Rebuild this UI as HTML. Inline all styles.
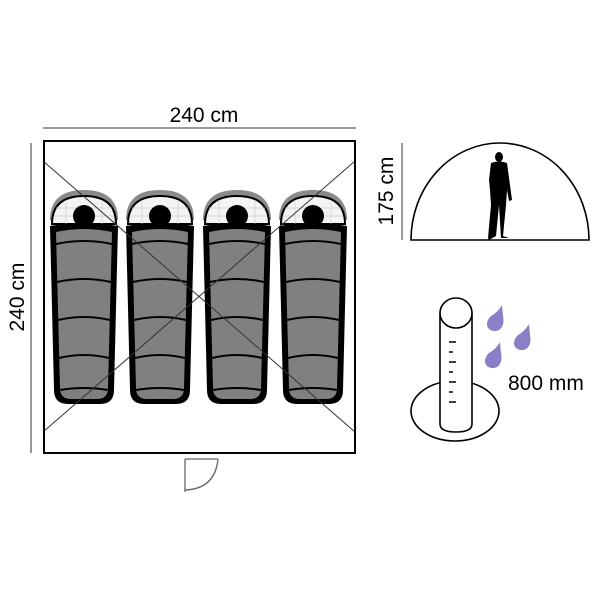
<!DOCTYPE html>
<html><head><style>body{margin:0;background:#fff}svg{display:block}</style></head><body>
<svg width="600" height="600" viewBox="0 0 600 600" xmlns="http://www.w3.org/2000/svg" font-family="Liberation Sans, sans-serif">
<defs>
<g id="bag">
<path d="M-34,28 Q-34,-2 0,-2 Q34,-2 34,28 Z" fill="#8a8a8a"/>
<path d="M-32,32 Q-32,4 0,4 Q32,4 32,32 Z" fill="#f4f4f4" stroke="#000" stroke-width="2"/>
<g stroke="#ccc" stroke-width="0.7"><line x1="-28" y1="16" x2="28" y2="16"/><line x1="-30" y1="24" x2="30" y2="24"/><line x1="-18" y1="8" x2="-18" y2="32"/><line x1="18" y1="8" x2="18" y2="32"/></g>
<circle cx="0" cy="24" r="11" fill="#000"/>
<path d="M-34,34 Q0,28 34,34 L30,198 Q30,212 16,212 L-16,212 Q-30,212 -30,198 Z" fill="#000"/>
<path d="M-28,40 Q0,34 28,40 L24,196 Q24,207 13,207 L-13,207 Q-24,207 -24,196 Z" fill="#808080"/>
<g stroke="#000" stroke-width="2" fill="none"><path d="M-28,52 Q0,46 28,52"/><path d="M-27,90 Q0,84 27,90"/><path d="M-26,128 Q0,122 26,128"/><path d="M-25,166 Q0,160 25,166"/><path d="M-24,198 Q0,194 24,198"/></g>
</g>
</defs>
<text x="204" y="122" font-size="21" text-anchor="middle">240 cm</text>
<line x1="43" y1="128" x2="356" y2="128" stroke="#333" stroke-width="1"/>
<text transform="translate(24,297) rotate(-90)" font-size="21" text-anchor="middle">240 cm</text>
<line x1="31" y1="143" x2="31" y2="453" stroke="#333" stroke-width="1"/>
<use href="#bag" x="84" y="192"/>
<use href="#bag" x="160" y="192"/>
<use href="#bag" x="237" y="192"/>
<use href="#bag" x="313" y="192"/>
<line x1="43" y1="161" x2="355" y2="432" stroke="#333" stroke-width="1"/>
<line x1="355" y1="161" x2="43" y2="432" stroke="#333" stroke-width="1"/>
<rect x="44" y="141" width="311" height="312" fill="none" stroke="#000" stroke-width="2"/>
<path d="M185,459 L218,459 M185,459 L185,492 M218,459 Q215,489 185,490" fill="none" stroke="#666" stroke-width="1.3"/>
<text transform="translate(393,191) rotate(-90)" font-size="21" text-anchor="middle">175 cm</text>
<line x1="402" y1="143" x2="402" y2="240" stroke="#333" stroke-width="1"/>
<path d="M411,240 A89,97 0 0 1 589,240 Z" fill="none" stroke="#000" stroke-width="1.6"/>
<g fill="#000">
<ellipse cx="499" cy="157" rx="4" ry="5"/>
<path d="M491,163 Q499,160 507,163 L512,200 L509,201 L507,190 L506,205 L503,236 L509,238 L501,238 L499,205 L496,236 L489,240 L488,238 L491,205 L490,190 L489,180 Z"/>
</g>
<ellipse cx="455" cy="411" rx="44" ry="30" fill="#fff" stroke="#000" stroke-width="1.6"/>
<path d="M440,313 L440,424 Q440,432 456,432 Q472,432 472,424 L472,313" fill="#fff" stroke="#000" stroke-width="1.6"/>
<ellipse cx="456" cy="313" rx="16" ry="15" fill="#fff" stroke="#000" stroke-width="1.6"/>
<g stroke="#000" stroke-width="1.5"><line x1="449" y1="342" x2="456" y2="342"/><line x1="449" y1="352" x2="453" y2="352"/><line x1="449" y1="362" x2="456" y2="362"/><line x1="449" y1="372" x2="453" y2="372"/><line x1="449" y1="382" x2="456" y2="382"/><line x1="449" y1="392" x2="453" y2="392"/><line x1="449" y1="402" x2="456" y2="402"/></g>
<g fill="#8a80c8">
<path d="M502,305 Q498,312 491,316 Q485,322 488,328 Q493,333 499,330 Q505,326 503,316 Z"/>
<path d="M529,324 Q525,331 518,335 Q512,341 515,347 Q520,352 526,349 Q532,345 530,335 Z"/>
<path d="M500,342 Q496,349 489,353 Q483,359 486,365 Q491,370 497,367 Q503,363 501,353 Z"/>
</g>
<text x="508" y="390" font-size="21">800 mm</text>
</svg>
</body></html>
